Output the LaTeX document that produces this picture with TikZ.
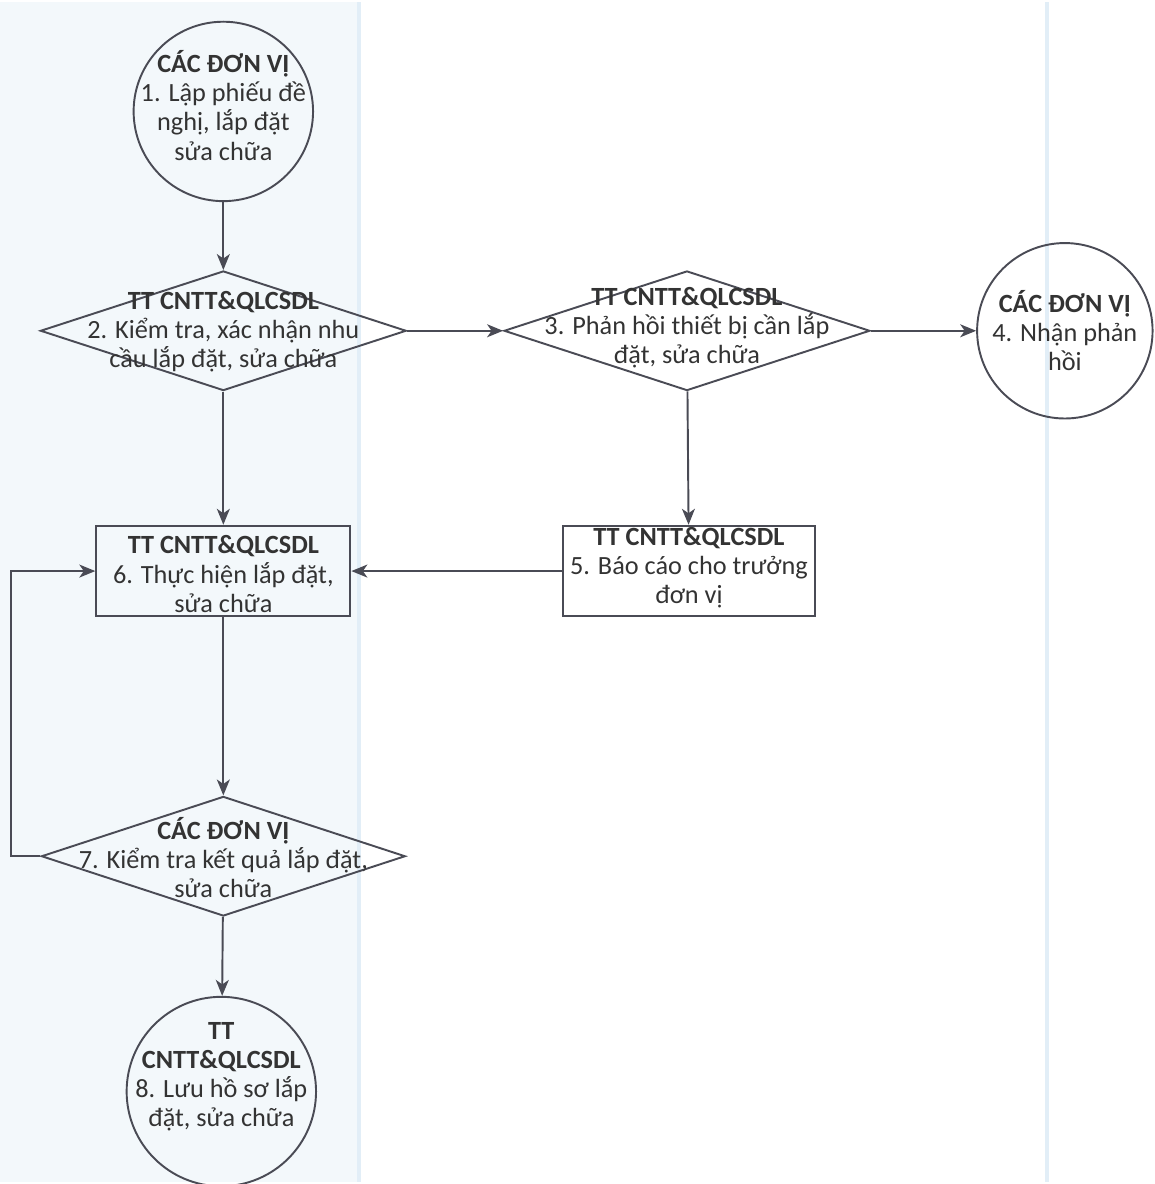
\documentclass[tikz,border=0pt]{standalone}
\usepackage{fontspec}
\setmainfont{Carlito}
\usetikzlibrary{shapes.geometric,arrows.meta}
\definecolor{linegray}{HTML}{4A4B55}
\definecolor{textgray}{HTML}{333333}
\definecolor{scanblue}{HTML}{F3F8FB}
\definecolor{laneline}{HTML}{E2EEF7}

\begin{document}
\begin{tikzpicture}[x=0.02cm,y=-0.02cm,
  every node/.style={font=\fontsize{15}{16.6}\selectfont,text=textgray},
  circ/.style={draw=linegray,line width=1.1pt,circle,inner sep=0pt},
  dia/.style={draw=linegray,line width=1.1pt,diamond,inner sep=0pt,minimum width=7.34cm,minimum height=2.4cm},
  box/.style={draw=linegray,line width=1.1pt,rectangle,inner sep=0pt,minimum height=1.82cm},
  txt/.style={align=center,inner sep=0pt},
  flow/.style={draw=linegray,line width=1.1pt,-{Stealth[length=3.2mm,width=2.6mm,inset=0.9mm]}}]

% nen cua ban scan
\fill[scanblue] (0,0) rectangle (360,1184);
\draw[laneline,line width=2pt] (360,0) -- (360,1184);
\draw[laneline,line width=2pt] (1050,0) -- (1050,1184);
\useasboundingbox (0,0) rectangle (1158,1184);

% cac buoc
\node[circ,minimum size=3.6cm] (c1) at (224,110) {};
\node[dia] (d2) at (224,330) {};
\node[dia] (d3) at (689,330) {};
\node[circ,minimum size=3.52cm] (c4) at (1068,330) {};
\node[box,minimum width=5.04cm] (b5) at (691,571) {};
\node[box,minimum width=5.1cm] (b6) at (224,571) {};
\node[dia,minimum width=7.3cm] (d7) at (224,857) {};
\node[circ,minimum size=3.8cm] (c8) at (222,1093) {};

\node[txt] (t1) at (224,104) {\textbf{CÁC ĐƠN VỊ}\\1. Lập phiếu đề\\nghị, lắp đặt\\sửa chữa};
\node[txt] (t2) at (224,331) {\textbf{TT CNTT\&QLCSDL}\\2. Kiểm tra, xác nhận nhu\\cầu lắp đặt, sửa chữa};
\node[txt] (t3) at (689,327) {\textbf{TT CNTT\&QLCSDL}\\3. Phản hồi thiết bị cần lắp\\đặt, sửa chữa};
\node[txt] (t4) at (1068,330) {\textbf{CÁC ĐƠN VỊ}\\4. Nhận phản\\hồi};
\node[txt] (t5) at (691,568) {\textbf{TT CNTT\&QLCSDL}\\5. Báo cáo cho trưởng\\đơn vị};
\node[txt] (t6) at (224,574) {\textbf{TT CNTT\&QLCSDL}\\6. Thực hiện lắp đặt,\\sửa chữa};
\node[txt] (t7) at (224,858) {\textbf{CÁC ĐƠN VỊ}\\7. Kiểm tra kết quả lắp đặt,\\sửa chữa};
\node[txt] (t8) at (222,1078) {\textbf{TT}\\\textbf{CNTT\&QLCSDL}\\8. Lưu hồ sơ lắp\\đặt, sửa chữa};

% luong
\draw[flow] (c1) -- (d2);
\draw[flow] (d2) -- (d3);
\draw[flow] (d3) -- (c4);
\draw[flow] (d2) -- (b6);
\draw[flow] (d3) -- (b5);
\draw[flow] (b5) -- (b6);
\draw[flow] (b6) -- (d7);
\draw[flow] (d7.west) -- ++(-30,0) |- (b6.west);
\draw[flow] (d7) -- (c8);
\end{tikzpicture}
\end{document}
